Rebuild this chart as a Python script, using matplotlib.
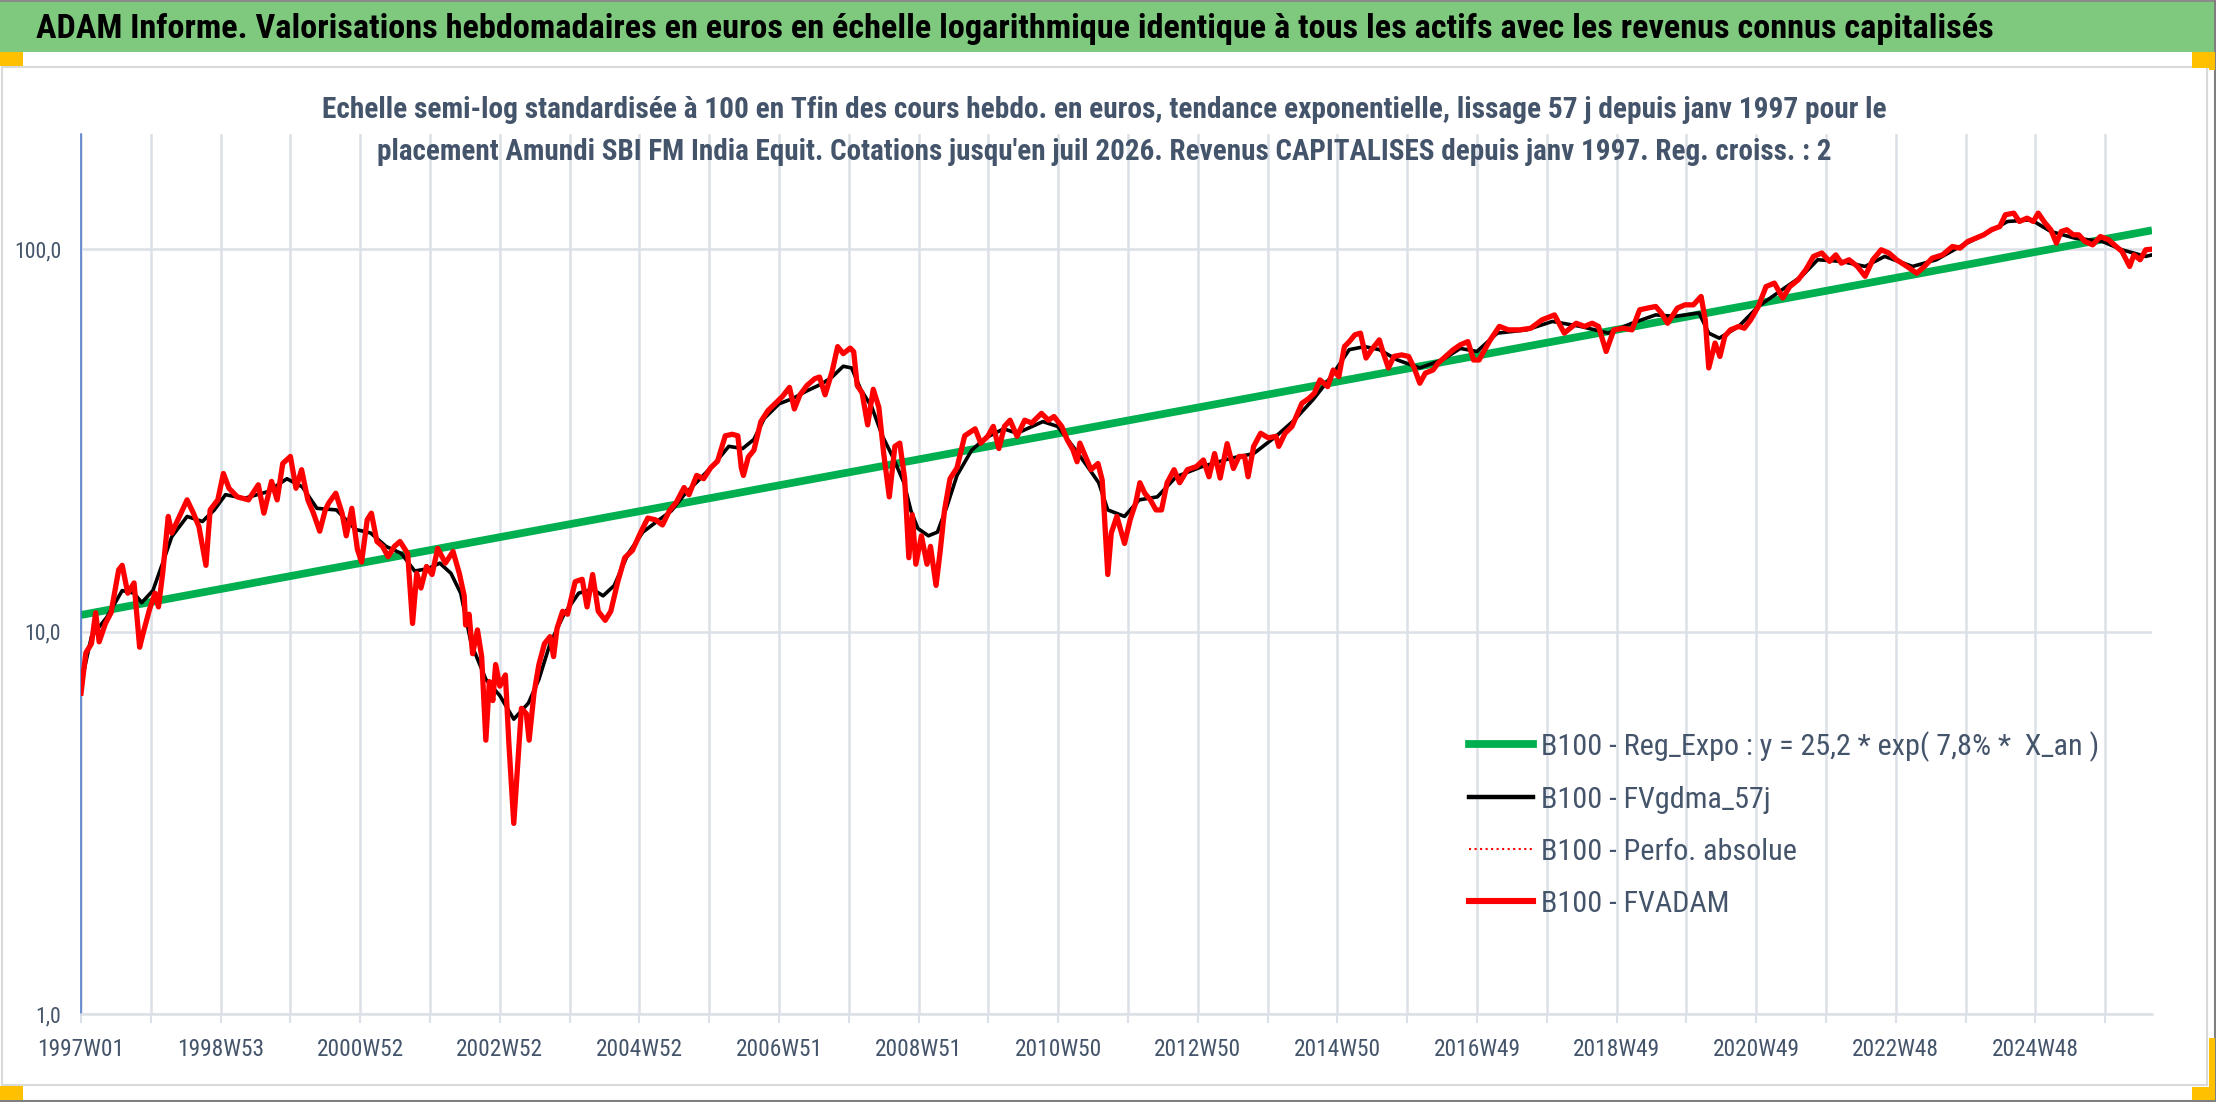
import os
import numpy as np
import matplotlib
matplotlib.use("Agg")
import matplotlib.pyplot as plt
from matplotlib import font_manager
from matplotlib.lines import Line2D
from matplotlib.patches import Rectangle
from matplotlib.ticker import FixedLocator, NullLocator, FixedFormatter

# ---------------- data (time in 52-week "years" since 1997W01) ----------------
t_red = [1997.00, 1997.07, 1997.15, 1997.21, 1997.26, 1997.35, 1997.43, 1997.54, 1997.59, 1997.67,
         1997.76, 1997.84, 1997.89, 1997.98, 1998.06, 1998.11, 1998.17, 1998.25, 1998.30, 1998.41,
         1998.52, 1998.61, 1998.69, 1998.79, 1998.85, 1998.96, 1999.04, 1999.12, 1999.24, 1999.40,
         1999.54, 1999.62, 1999.73, 1999.81, 1999.89, 2000.00, 2000.08, 2000.16, 2000.25, 2000.33,
         2000.42, 2000.50, 2000.55, 2000.65, 2000.74, 2000.80, 2000.88, 2000.96, 2001.02, 2001.10,
         2001.16, 2001.24, 2001.32, 2001.40, 2001.49, 2001.57, 2001.68, 2001.75, 2001.81, 2001.87,
         2001.95, 2002.03, 2002.11, 2002.22, 2002.33, 2002.42, 2002.49, 2002.51, 2002.56, 2002.61,
         2002.68, 2002.74, 2002.80, 2002.85, 2002.90, 2002.94, 2003.00, 2003.08, 2003.13, 2003.20,
         2003.26, 2003.31, 2003.38, 2003.42, 2003.49, 2003.56, 2003.64, 2003.72, 2003.77, 2003.82,
         2003.90, 2003.97, 2004.08, 2004.18, 2004.25, 2004.33, 2004.41, 2004.51, 2004.59, 2004.69,
         2004.79, 2004.90, 2005.02, 2005.12, 2005.23, 2005.33, 2005.43, 2005.53, 2005.64, 2005.71,
         2005.82, 2005.92, 2006.02, 2006.12, 2006.23, 2006.33, 2006.41, 2006.46, 2006.49, 2006.56,
         2006.64, 2006.74, 2006.84, 2006.94, 2007.05, 2007.15, 2007.22, 2007.30, 2007.40, 2007.51,
         2007.58, 2007.66, 2007.76, 2007.84, 2007.92, 2008.02, 2008.07, 2008.12, 2008.19, 2008.27,
         2008.35, 2008.43, 2008.50, 2008.54, 2008.58, 2008.66, 2008.73, 2008.80, 2008.86, 2008.91,
         2008.96, 2009.04, 2009.12, 2009.17, 2009.25, 2009.31, 2009.37, 2009.45, 2009.55, 2009.66,
         2009.81, 2009.89, 2009.99, 2010.07, 2010.15, 2010.23, 2010.31, 2010.41, 2010.52, 2010.62,
         2010.76, 2010.86, 2010.94, 2011.05, 2011.13, 2011.21, 2011.27, 2011.31, 2011.39, 2011.47,
         2011.57, 2011.63, 2011.66, 2011.71, 2011.76, 2011.84, 2011.95, 2012.03, 2012.11, 2012.17,
         2012.24, 2012.32, 2012.40, 2012.48, 2012.56, 2012.66, 2012.74, 2012.85, 2012.98, 2013.08,
         2013.16, 2013.24, 2013.32, 2013.42, 2013.51, 2013.59, 2013.67, 2013.72, 2013.80, 2013.90,
         2014.01, 2014.12, 2014.16, 2014.25, 2014.35, 2014.41, 2014.49, 2014.59, 2014.67, 2014.75,
         2014.86, 2014.94, 2015.02, 2015.10, 2015.17, 2015.25, 2015.33, 2015.41, 2015.49, 2015.60,
         2015.65, 2015.73, 2015.81, 2015.92, 2016.02, 2016.10, 2016.18, 2016.26, 2016.37, 2016.44,
         2016.55, 2016.66, 2016.76, 2016.87, 2016.95, 2017.03, 2017.11, 2017.19, 2017.32, 2017.45,
         2017.61, 2017.77, 2017.93, 2018.11, 2018.25, 2018.42, 2018.54, 2018.65, 2018.74, 2018.85,
         2018.96, 2019.10, 2019.22, 2019.33, 2019.44, 2019.56, 2019.64, 2019.73, 2019.87, 2019.98,
         2020.10, 2020.21, 2020.27, 2020.32, 2020.41, 2020.48, 2020.55, 2020.63, 2020.75, 2020.83,
         2020.92, 2021.03, 2021.14, 2021.26, 2021.38, 2021.48, 2021.60, 2021.71, 2021.82, 2021.94,
         2022.05, 2022.14, 2022.22, 2022.33, 2022.45, 2022.56, 2022.67, 2022.79, 2022.90, 2023.01,
         2023.16, 2023.30, 2023.41, 2023.52, 2023.67, 2023.81, 2023.92, 2024.03, 2024.15, 2024.26,
         2024.37, 2024.49, 2024.57, 2024.69, 2024.77, 2024.88, 2024.97, 2025.04, 2025.14, 2025.22,
         2025.30, 2025.37, 2025.45, 2025.54, 2025.62, 2025.71, 2025.82, 2025.93, 2026.05, 2026.13,
         2026.24, 2026.35, 2026.41, 2026.50, 2026.58, 2026.67]
fvadam = [6.9, 8.8, 9.3, 11.2, 9.4, 10.5, 11.2, 14.5, 14.9, 12.6,
          13.4, 9.1, 9.9, 11.4, 12.6, 11.6, 14.2, 20.0, 18.1, 20.0,
          22.1, 20.4, 18.8, 14.9, 20.8, 22.1, 25.9, 23.7, 22.5, 22.1,
          24.2, 20.4, 24.7, 22.1, 27.5, 28.7, 23.7, 26.5, 22.1, 20.4,
          18.3, 20.8, 21.7, 23.0, 20.4, 17.8, 21.0, 16.4, 15.2, 19.6,
          20.4, 17.2, 16.7, 15.7, 16.7, 17.2, 16.0, 10.5, 14.2, 13.0,
          14.8, 14.1, 16.5, 15.1, 16.2, 14.2, 12.4, 10.4, 11.1, 8.75,
          10.1, 8.6, 5.2, 7.4, 6.6, 8.2, 7.2, 7.7, 5.1, 3.15,
          4.6, 6.3, 6.1, 5.2, 6.9, 8.2, 9.3, 9.7, 8.6, 10.2,
          11.3, 11.1, 13.5, 13.7, 11.6, 14.1, 11.3, 10.7, 11.3, 13.5,
          15.6, 16.3, 18.2, 19.8, 19.6, 19.0, 20.7, 21.8, 23.8, 22.8,
          25.6, 25.1, 26.8, 27.9, 32.5, 32.8, 32.5, 26.8, 25.6, 28.6,
          29.8, 35.4, 37.8, 39.4, 41.2, 43.5, 38.2, 41.6, 44.0, 45.8,
          46.3, 41.6, 47.8, 55.6, 53.3, 55.1, 53.9, 44.0, 42.1, 34.7,
          43.0, 38.6, 29.2, 25.6, 22.5, 30.5, 31.1, 25.1, 15.6, 20.2,
          15.0, 17.8, 15.0, 16.7, 13.2, 16.3, 20.7, 25.1, 26.8, 32.5,
          33.9, 31.1, 32.4, 34.4, 30.1, 34.4, 35.7, 32.4, 35.7, 35.1,
          37.2, 35.7, 36.5, 34.4, 31.7, 29.9, 27.8, 31.1, 28.7, 26.5,
          27.5, 24.9, 20.4, 14.1, 18.1, 20.0, 17.0, 19.6, 21.7, 24.5,
          23.0, 22.1, 20.8, 20.8, 24.5, 26.5, 24.5, 26.5, 27.0, 28.1,
          25.4, 29.2, 25.2, 31.0, 26.7, 28.7, 28.7, 25.4, 30.5, 33.0,
          32.1, 32.4, 30.5, 33.0, 34.4, 36.5, 39.5, 40.7, 42.0, 45.5,
          43.7, 48.3, 46.4, 55.6, 57.3, 59.7, 60.3, 51.9, 54.6, 57.9,
          54.0, 48.9, 52.4, 52.9, 52.4, 48.9, 44.6, 47.4, 48.3, 50.3,
          52.4, 54.6, 56.2, 57.3, 51.3, 51.3, 54.6, 57.9, 62.8, 61.5,
          61.5, 62.1, 65.3, 67.3, 60.3, 64.0, 62.8, 64.0, 62.8, 54.0,
          61.5, 62.1, 61.5, 69.4, 70.1, 70.8, 68.1, 64.0, 70.1, 71.5,
          71.5, 75.2, 65.3, 48.9, 56.8, 52.4, 59.2, 61.5, 62.8, 62.1,
          65.3, 70.8, 79.8, 81.5, 74.5, 79.8, 83.1, 88.3, 95.7, 97.7,
          92.9, 96.6, 91.9, 93.8, 90.1, 84.9, 93.8, 99.6, 97.7, 93.8,
          90.1, 86.5, 90.1, 94.7, 96.6, 101.6, 100.6, 104.7, 106.9, 109.0,
          112.4, 114.6, 123.0, 124.2, 118.1, 120.5, 118.1, 124.2, 116.9, 112.4,
          103.7, 111.2, 112.4, 109.0, 109.0, 104.7, 102.6, 107.9, 105.8, 102.6,
          98.6, 90.1, 96.6, 93.8, 99.6, 100.0]

t_black = [1997.00, 1997.15, 1997.37, 1997.59, 1997.76, 1997.87, 1998.03, 1998.17, 1998.30, 1998.52,
           1998.74, 1998.91, 1999.07, 1999.34, 1999.67, 1999.95, 2000.17, 2000.38, 2000.66, 2000.93,
           2001.15, 2001.37, 2001.59, 2001.78, 2001.97, 2002.14, 2002.30, 2002.44, 2002.59, 2002.80,
           2003.00, 2003.20, 2003.41, 2003.56, 2003.72, 2003.92, 2004.13, 2004.33, 2004.48, 2004.64,
           2004.84, 2005.05, 2005.25, 2005.46, 2005.66, 2005.87, 2006.07, 2006.28, 2006.48, 2006.64,
           2006.79, 2007.00, 2007.20, 2007.40, 2007.61, 2007.76, 2007.92, 2008.04, 2008.17, 2008.33,
           2008.48, 2008.63, 2008.79, 2008.89, 2008.99, 2009.14, 2009.27, 2009.40, 2009.55, 2009.76,
           2009.96, 2010.22, 2010.41, 2010.78, 2010.99, 2011.21, 2011.42, 2011.58, 2011.71, 2011.95,
           2012.16, 2012.42, 2012.69, 2013.06, 2013.48, 2013.80, 2014.12, 2014.38, 2014.65, 2014.91,
           2015.17, 2015.39, 2015.60, 2015.86, 2016.18, 2016.50, 2016.76, 2017.00, 2017.29, 2017.71,
           2018.08, 2018.48, 2018.88, 2019.22, 2019.56, 2019.84, 2020.18, 2020.32, 2020.47, 2020.75,
           2021.03, 2021.37, 2021.65, 2021.88, 2022.22, 2022.56, 2022.84, 2023.24, 2023.58, 2023.92,
           2024.26, 2024.60, 2024.94, 2025.22, 2025.56, 2025.96, 2026.24, 2026.58, 2026.67]
fvgdma = [7.3, 9.7, 10.9, 12.8, 12.6, 11.9, 12.8, 15.1, 17.7, 20.0,
          19.4, 20.8, 22.8, 22.3, 23.2, 25.1, 23.9, 21.0, 20.8, 18.5,
          18.1, 16.7, 16.0, 14.4, 14.6, 15.1, 14.2, 12.6, 9.3, 7.5,
          6.8, 5.9, 6.5, 7.5, 9.3, 11.1, 12.6, 12.9, 12.4, 13.2,
          16.0, 18.2, 19.4, 20.7, 23.0, 25.1, 27.4, 30.5, 30.1, 31.8,
          36.1, 39.4, 40.7, 42.6, 44.4, 46.3, 49.4, 48.9, 43.0, 38.6,
          32.5, 28.6, 24.5, 20.7, 18.6, 17.8, 18.2, 21.1, 25.6, 29.8,
          32.1, 33.9, 33.0, 35.4, 34.4, 30.5, 27.0, 24.5, 20.8, 20.0,
          22.1, 22.5, 25.4, 27.0, 28.4, 29.2, 32.4, 35.7, 40.4, 46.4,
          54.6, 55.6, 54.6, 51.3, 48.9, 51.3, 55.0, 54.0, 60.3, 61.5,
          64.7, 62.8, 60.3, 64.0, 67.3, 66.7, 68.1, 60.3, 58.5, 62.8,
          70.8, 78.3, 84.9, 93.8, 92.9, 90.1, 95.7, 90.1, 93.8, 101.6,
          109.0, 118.1, 119.3, 111.2, 106.9, 104.7, 99.6, 95.7, 96.6]

trend_values = [11.05, 112.0]   # B100 - Reg_Expo, first and last week

tick_labels = ["1997W01", "1998W53", "2000W52", "2002W52", "2004W52", "2006W51", "2008W51",
               "2010W50", "2012W50", "2014W50", "2016W49", "2018W49", "2020W49", "2022W48", "2024W48"]
y_ticks = [1, 10, 100]
y_tick_labels = ["1,0", "10,0", "100,0"]

legend_labels = ["B100 - Reg_Expo : y = 25,2 * exp( 7,8% *  X_an )",
                 "B100 - FVgdma_57j",
                 "B100 - Perfo. absolue",
                 "B100 - FVADAM"]

title = ("ADAM Informe. Valorisations hebdomadaires en euros en échelle logarithmique "
         "identique à tous les actifs avec les revenus connus capitalisés")
subtitle1 = ("Echelle semi-log standardisée à 100 en Tfin des cours hebdo. en euros, tendance "
             "exponentielle, lissage 57 j depuis janv 1997 pour le")
subtitle2 = ("placement Amundi SBI FM India Equit. Cotations jusqu'en juil 2026. Revenus "
             "CAPITALISES depuis janv 1997. Reg. croiss. : 2")

# ---------------- helpers ----------------
W, H = 2216, 1102
WEEKS = 52


def fx(px):
    return px / W


def fy(py):
    return 1 - py / H


def pick_font(candidates, fallback_family, bold):
    files = {}
    for f in font_manager.fontManager.ttflist:
        files.setdefault(os.path.basename(f.fname).lower(), f.fname)
    for c in candidates:
        if c.lower() in files:
            return font_manager.FontProperties(fname=files[c.lower()])
    return font_manager.FontProperties(family=fallback_family,
                                       weight="bold" if bold else "normal")


REG_CANDS = ["LiberationSansNarrow-Regular.ttf", "NotoSans-Condensed.ttf",
             "RobotoCondensed-Regular.ttf", "OpenSans_Condensed-Regular.ttf",
             "OpenSans-CondensedRegular.ttf", "OpenSans-CondLight.ttf", "DejaVuSansCondensed.ttf"]
BOLD_CANDS = ["LiberationSansNarrow-Bold.ttf", "NotoSans-CondensedBold.ttf",
              "RobotoCondensed-Bold.ttf", "OpenSans_Condensed-Bold.ttf",
              "OpenSans-CondensedBold.ttf", "OpenSans-CondBold.ttf", "DejaVuSansCondensed-Bold.ttf"]

FP_REG = pick_font(REG_CANDS, "Liberation Sans", False)
FP_BOLD = pick_font(BOLD_CANDS, "Liberation Sans", True)


def fp(base, size):
    p = base.copy()
    p.set_size(size)
    return p


SLATE = "#44546A"
GRID = "#DCE0E7"

x_red = (np.array(t_red) - 1997.0) * WEEKS
x_black = (np.array(t_black) - 1997.0) * WEEKS
x_trend = [x_red[0], x_red[-1]]
n_last = x_red[-1]

fig = plt.figure(figsize=(W / 100, H / 100), dpi=100)
fig.patch.set_facecolor("white")

# ---------------- decorations (Excel sheet look) ----------------
fig.add_artist(Rectangle((0, fy(52)), 1, 52 / H, transform=fig.transFigure,
                         facecolor="#7FC97F", edgecolor="none", zorder=0))
fig.add_artist(Line2D([0, 1], [fy(0.5), fy(0.5)], transform=fig.transFigure, color="#8A8A8A", lw=1.5))
for xs, ys in [([2, 2207], [67, 67]), ([2207, 2207], [67, 1085]), ([2, 2207], [1085, 1085]),
               ([2, 2], [67, 1085])]:
    fig.add_artist(Line2D([fx(v) for v in xs], [fy(v) for v in ys], transform=fig.transFigure,
                          color="#D9D9D9", lw=1.5))
fig.add_artist(Line2D([fx(2215), fx(2215)], [fy(0), fy(1102)], transform=fig.transFigure,
                      color="#7F7F7F", lw=1.5))
fig.add_artist(Line2D([fx(0), fx(2216)], [fy(1101), fy(1101)], transform=fig.transFigure,
                      color="#7F7F7F", lw=1.5))
for (x0, y0, x1, y1) in [(0, 52, 23, 66), (2192, 52, 2213, 68), (2209, 52, 2215, 70),
                         (0, 1086, 23, 1100), (2192, 1087, 2213, 1100), (2209, 1038, 2215, 1100)]:
    fig.add_artist(Rectangle((fx(x0), fy(y1)), (x1 - x0) / W, (y1 - y0) / H,
                             transform=fig.transFigure, facecolor="#FFC000", edgecolor="none",
                             zorder=5))

# ---------------- axes ----------------
ax = fig.add_axes([fx(81), fy(1014), fx(2152) - fx(81), fy(134) - fy(1014)])
ax.set_yscale("log")
ax.set_ylim(1, 200)
ax.set_xlim(0, n_last)

ax.plot(x_trend, trend_values, color="#00B050", lw=5.6, solid_capstyle="butt", zorder=2)
ax.plot(x_black, fvgdma, color="#000000", lw=2.6, zorder=3)
ax.plot(x_red, fvadam, color="#FF0000", lw=1.2, ls=":", zorder=3.5)
ax.plot(x_red, fvadam, color="#FF0000", lw=3.8, zorder=4, solid_joinstyle="round")

ax.yaxis.set_major_locator(FixedLocator(y_ticks))
ax.yaxis.set_major_formatter(FixedFormatter(y_tick_labels))
ax.yaxis.set_minor_locator(NullLocator())
ax.tick_params(axis="y", length=0, pad=14.4, labelcolor=SLATE)

grid_pos = np.arange(0, n_last + 1, WEEKS)
ax.xaxis.set_major_locator(FixedLocator(grid_pos))
xlabels = []
for i in range(len(grid_pos)):
    xlabels.append(tick_labels[i // 2] if i % 2 == 0 and i // 2 < len(tick_labels) else "")
ax.xaxis.set_major_formatter(FixedFormatter(xlabels))
ax.tick_params(axis="x", length=6.5, width=1.5, color=GRID, direction="out", pad=11,
               labelcolor=SLATE)

for lab in ax.get_xticklabels():
    lab.set_fontproperties(fp(FP_REG, 16.8))
for lab in ax.get_yticklabels():
    lab.set_fontproperties(fp(FP_REG, 15.6))

ax.grid(True, which="major", color=GRID, lw=1.8)
ax.set_axisbelow(True)
for s in ["top", "right"]:
    ax.spines[s].set_visible(False)
ax.spines["left"].set_color("#4472C4")
ax.spines["left"].set_linewidth(1.1)
ax.spines["bottom"].set_color(GRID)
ax.spines["bottom"].set_linewidth(1.8)

handles = [Line2D([], [], color="#00B050", lw=5.6),
           Line2D([], [], color="#000000", lw=3.2),
           Line2D([], [], color="#FF0000", lw=1.5, ls=":"),
           Line2D([], [], color="#FF0000", lw=4.4)]
leg = ax.legend(handles, legend_labels, loc="upper left",
                bbox_to_anchor=(fx(1469), fy(731)), bbox_transform=fig.transFigure,
                frameon=False, prop=fp(FP_REG, 21.7), labelcolor=SLATE,
                handlelength=2.14, handletextpad=0.25, labelspacing=0.80,
                borderpad=0, borderaxespad=0)

# ---------------- titles ----------------
t_main = fig.text(fx(36), fy(38), title, ha="left", va="baseline",
                  fontproperties=fp(FP_BOLD, 22), color="#000000")
t_s1 = fig.text(fx(1104), fy(118), subtitle1, ha="center", va="baseline",
                fontproperties=fp(FP_BOLD, 18), color=SLATE)
t_s2 = fig.text(fx(1104), fy(160), subtitle2, ha="center", va="baseline",
                fontproperties=fp(FP_BOLD, 18), color=SLATE)

renderer = fig.canvas.get_renderer()


def fit(txt, target):
    w = txt.get_window_extent(renderer).width
    txt.set_fontsize(txt.get_fontsize() * target / w)


fit(t_main, 1959)
fit(t_s1, 1567)
fit(t_s2, 1453)

fig.savefig("out.png", dpi=100, facecolor="white")
